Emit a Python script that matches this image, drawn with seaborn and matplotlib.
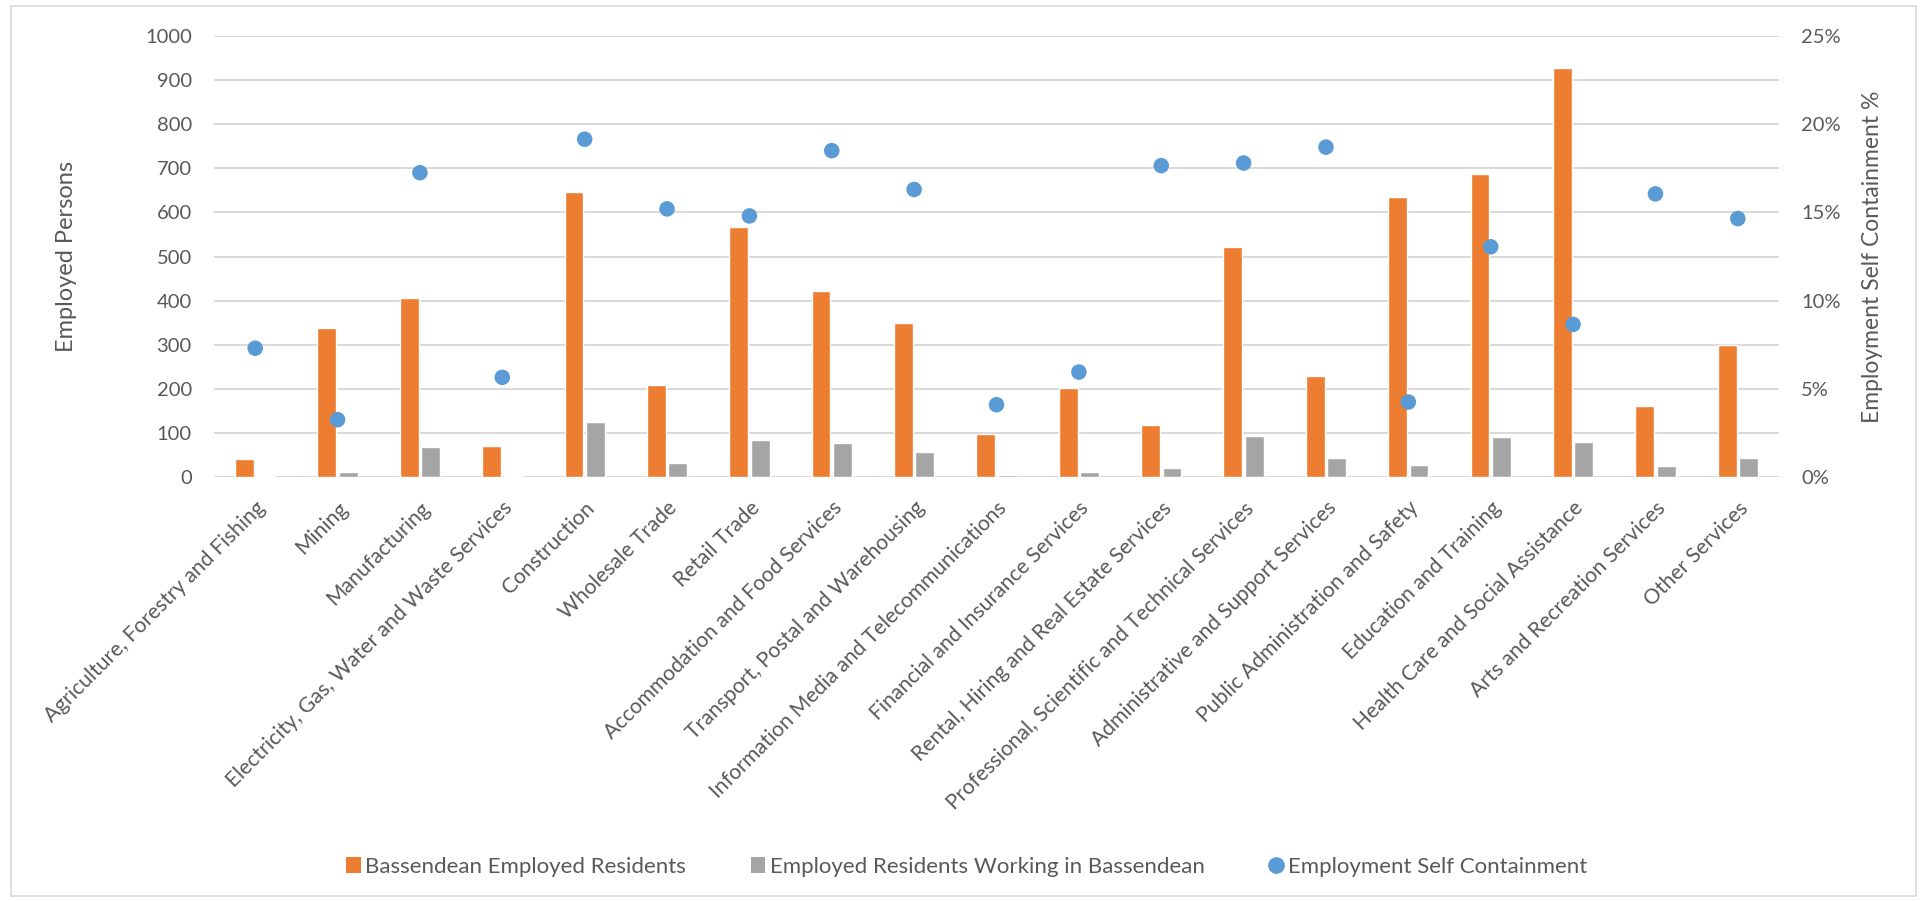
import pandas as pd
import seaborn as sns
import matplotlib.pyplot as plt
from matplotlib.patches import Patch, Rectangle
from matplotlib.lines import Line2D
from matplotlib.ticker import FuncFormatter

# ---------------------------------------------------------
# data
# ---------------------------------------------------------
industries = [
    "Agriculture, Forestry and Fishing", "Mining", "Manufacturing",
    "Electricity, Gas, Water and Waste Services", "Construction",
    "Wholesale Trade", "Retail Trade", "Accommodation and Food Services",
    "Transport, Postal and Warehousing", "Information Media and Telecommunications",
    "Financial and Insurance Services", "Rental, Hiring and Real Estate Services",
    "Professional, Scientific and Technical Services",
    "Administrative and Support Services", "Public Administration and Safety",
    "Education and Training", "Health Care and Social Assistance",
    "Arts and Recreation Services", "Other Services",
]
employed_residents = [40, 338, 405, 71, 646, 209, 567, 421, 350, 98, 201, 118, 521, 229, 634, 688, 927, 161, 299]
working_in_bassendean = [3, 11, 69, 3, 124, 32, 83, 77, 57, 4, 11, 21, 93, 42, 27, 90, 79, 25, 43]
self_containment = [7.3, 3.25, 17.25, 5.65, 19.15, 15.2, 14.8, 18.5, 16.3, 4.1, 5.95, 17.65,
                    17.8, 18.7, 4.25, 13.05, 8.65, 16.05, 14.65]

series_names = ["Bassendean Employed Residents", "Employed Residents Working in Bassendean"]
dot_name = "Employment Self Containment"

ORANGE = "#ED7D31"
GREY = "#A5A5A5"
BLUE = "#5B9BD5"
TEXT = "#595959"
GRID = "#D9D9D9"

bars = pd.DataFrame({
    "industry": industries * 2,
    "value": employed_residents + working_in_bassendean,
    "series": [series_names[0]] * len(industries) + [series_names[1]] * len(industries),
})
dots = pd.DataFrame({"industry": industries, "pct": self_containment})

# ---------------------------------------------------------
# plot
# ---------------------------------------------------------
sns.set_theme(style="white")
plt.rcParams["font.family"] = ["Lato", "DejaVu Sans"]

fig = plt.figure(figsize=(19.22, 9.01), dpi=100)
ax = fig.add_axes([214 / 1922, 1 - 477 / 901, (1779 - 214) / 1922, (477 - 36) / 901])

sns.barplot(data=bars, x="industry", y="value", hue="series", palette=[ORANGE, GREY],
            width=0.52, gap=0.12, saturation=1, errorbar=None, legend=False, ax=ax)
ax.set_ylim(0, 1000)
ax.set_yticks(range(0, 1001, 100))
ax.set_xlim(-0.5, len(industries) - 0.5)
ax.yaxis.grid(True, color=GRID, linewidth=1.4)
ax.set_axisbelow(True)
for s in ax.spines.values():
    s.set_visible(False)
ax.set_xlabel("")
ax.set_ylabel("Employed Persons", fontsize=17, color=TEXT, labelpad=49)
ax.tick_params(axis="y", length=0, pad=16, labelsize=14.5, labelcolor=TEXT)
ax.tick_params(axis="x", length=0, pad=15, labelsize=15.2, labelcolor=TEXT)
plt.setp(ax.get_xticklabels(), rotation=45, ha="right", va="top", rotation_mode="anchor")

ax2 = ax.twinx()
sns.scatterplot(data=dots, x="industry", y="pct", color=BLUE, s=125, edgecolor="none", ax=ax2)
ax2.set_ylim(0, 25)
ax2.set_yticks(range(0, 26, 5))
ax2.yaxis.set_major_formatter(FuncFormatter(lambda v, _: f"{v:.0f}%"))
ax2.grid(False)
for s in ax2.spines.values():
    s.set_visible(False)
ax2.set_ylabel("Employment Self Containment %", fontsize=16.5, color=TEXT, labelpad=15)
ax2.tick_params(axis="y", length=0, pad=16, labelsize=14.5, labelcolor=TEXT)

handles = [
    Patch(facecolor=ORANGE, edgecolor="none"),
    Patch(facecolor=GREY, edgecolor="none"),
    Line2D([], [], marker="o", linestyle="none", color=BLUE, markersize=11),
]
leg = fig.legend(handles, series_names + [dot_name], loc="center", bbox_to_anchor=(0.503, 0.0377),
                 ncol=3, frameon=False, fontsize=16, handlelength=0.65, handleheight=0.7,
                 handletextpad=0.2, columnspacing=2.9, labelcolor=TEXT)

# chart area border
fig.patches.append(Rectangle((11 / 1922, 5 / 901), (1916 - 11) / 1922, (895 - 5) / 901,
                             transform=fig.transFigure, fill=False, edgecolor=GRID, linewidth=1.2))

fig.savefig("out.png", dpi=100)
